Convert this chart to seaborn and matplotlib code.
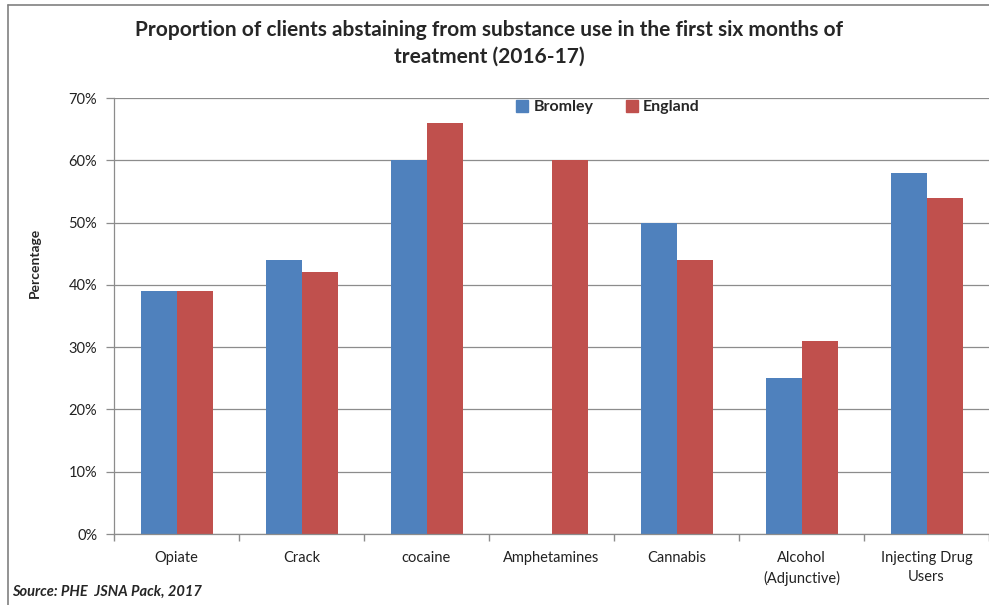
import numpy as np
import pandas as pd
import seaborn as sns
import matplotlib.pyplot as plt
from matplotlib.lines import Line2D
from matplotlib.ticker import PercentFormatter

categories = ['Opiate', 'Crack', 'cocaine', 'Amphetamines', 'Cannabis',
              'Alcohol\n(Adjunctive)', 'Injecting Drug\nUsers']
bromley = [39, 44, 60, np.nan, 50, 25, 58]
england = [39, 42, 66, 60, 44, 31, 54]
series = ['Bromley', 'England']
colors = ['#4F81BD', '#C0504D']

df = pd.DataFrame({
    'category': categories * 2,
    'area': ['Bromley'] * len(categories) + ['England'] * len(categories),
    'value': bromley + england,
})

sns.set_theme(style='white')
plt.rcParams['font.family'] = ['Lato', 'DejaVu Sans']

fig = plt.figure(figsize=(9.89, 6.05), dpi=100)
ax = fig.add_axes([114 / 989, 1 - 534 / 605, 1 - 114 / 989, (534 - 98) / 605])

sns.barplot(data=df, x='category', y='value', hue='area', order=categories,
            hue_order=series, palette=colors, width=0.576, gap=0,
            saturation=1, linewidth=0, ax=ax, legend=False)

ax.set_xlim(-0.5, len(categories) - 0.5)
ax.set_ylim(0, 70)
ax.set_yticks(np.arange(0, 71, 10))
ax.yaxis.set_major_formatter(PercentFormatter(decimals=0))
ax.grid(axis='y', color='#8c8c8c', linewidth=0.9)
ax.set_axisbelow(True)

ax.set_xticks(np.arange(len(categories)))
ax.set_xticklabels(categories, linespacing=1.5)
ax.set_xticks(np.arange(-0.5, len(categories)), minor=True)
ax.tick_params(axis='x', which='major', length=0, pad=12, labelsize=10.5,
               labelcolor='#222222')
ax.tick_params(axis='x', which='minor', length=5, color='#8c8c8c',
               direction='out', bottom=True)
ax.tick_params(axis='y', length=6, color='#8c8c8c', direction='out',
               width=0.9, pad=6, labelsize=10.5, labelcolor='#222222',
               left=True)

for side in ['top', 'right']:
    ax.spines[side].set_visible(False)
for side in ['left', 'bottom']:
    ax.spines[side].set_color('#8c8c8c')
    ax.spines[side].set_linewidth(0.9)

ax.set_xlabel('')
ax.set_ylabel('')
fig.text(35 / 989, 1 - 263 / 605, 'Percentage', rotation=90, ha='center',
         va='center', fontsize=10, fontweight='bold')

fig.text(489 / 989, 1 - 30 / 605,
         'Proportion of clients abstaining from substance use in the first six months of',
         ha='center', va='center', fontsize=15, fontweight='bold')
fig.text(489 / 989, 1 - 57 / 605, 'treatment (2016-17)', ha='center',
         va='center', fontsize=15, fontweight='bold')

handles = [Line2D([], [], marker='s', linestyle='', markersize=8,
                  markerfacecolor=c, markeredgecolor=c) for c in colors]
ax.legend(handles, series, loc='center',
          bbox_to_anchor=(607 / 989, 1 - 107 / 605),
          bbox_transform=fig.transFigure, ncol=2, frameon=False,
          prop={'weight': 'bold', 'size': 11.5}, handletextpad=0.2,
          columnspacing=1.9, handlelength=1)

fig.text(12 / 989, 1 - 592 / 605, 'Source: PHE  JSNA Pack, 2017', ha='left',
         va='center', fontsize=10.5, fontweight='bold', fontstyle='italic')

# chart frame
fig.add_artist(Line2D([8 / 989, 8 / 989], [0, 1 - 5 / 605],
                      transform=fig.transFigure, color='#808080', linewidth=1.2))
fig.add_artist(Line2D([8 / 989, 1], [1 - 5 / 605, 1 - 5 / 605],
                      transform=fig.transFigure, color='#808080', linewidth=1.2))

fig.savefig('out.png', dpi=100)
